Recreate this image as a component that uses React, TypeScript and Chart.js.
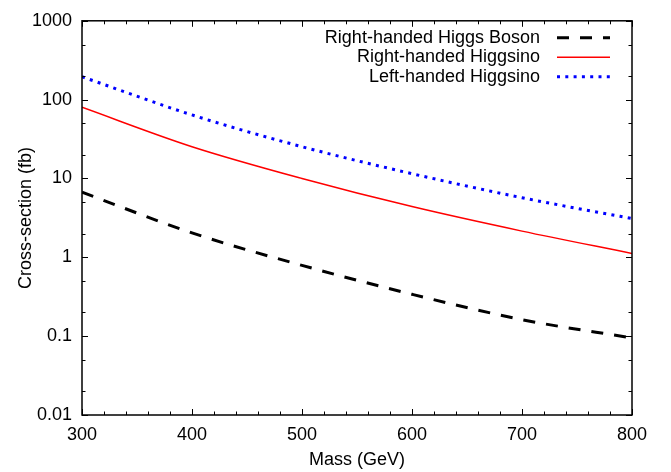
import React, { useEffect, useRef } from 'react';
import { Chart, registerables } from 'chart.js';

Chart.register(...registerables);

// ---- data ----
const masses = [300, 400, 500, 600, 700, 800];
const higgsBosonRH = [6.7, 2.04, 0.79, 0.34, 0.162, 0.095];
const higgsinoRH = [80, 25.3, 10, 4.4, 2.15, 1.12];
const higgsinoLH = [195, 64, 25.3, 11.5, 5.7, 3.1];
const seriesLabels = ['Right-handed Higgs Boson', 'Right-handed Higgsino', 'Left-handed Higgsino'];

const yMajorTicks = [0.01, 0.1, 1, 10, 100, 1000];
const yTickLabels = ['0.01', '0.1', '1', '10', '100', '1000'];
const yMinorFactors = [2, 5];
const xMajorTicks = [300, 400, 500, 600, 700, 800];
const xTickLabels = ['300', '400', '500', '600', '700', '800'];
const xMinorStep = 20;

const xTitle = 'Mass (GeV)';
const yTitle = 'Cross-section (fb)';

const FONT = '"Liberation Sans", Arial, Helvetica, sans-serif';
const FONT_SIZE = 18;

const toPoints = (ys: number[]) => masses.map((m, i) => ({ x: m, y: ys[i] }));

const framePlugin = {
  id: 'gnuFrame',
  afterDatasetsDraw(chart: any) {
    const { ctx, chartArea: a, scales } = chart;
    const xs = scales.x;
    const ys = scales.y;
    ctx.save();
    ctx.strokeStyle = '#000';
    ctx.lineWidth = 1;
    ctx.beginPath();
    xs.ticks.forEach((t: any) => {
      const px = Math.round(xs.getPixelForValue(t.value)) + 0.5;
      const len = xMajorTicks.includes(t.value) ? 6 : 3.5;
      ctx.moveTo(px, a.bottom);
      ctx.lineTo(px, a.bottom - len);
      ctx.moveTo(px, a.top);
      ctx.lineTo(px, a.top + len);
    });
    ys.ticks.forEach((t: any) => {
      const py = Math.round(ys.getPixelForValue(t.value)) + 0.5;
      const len = yMajorTicks.some((v) => Math.abs(v - t.value) / v < 1e-6) ? 6 : 3.5;
      ctx.moveTo(a.left, py);
      ctx.lineTo(a.left + len, py);
      ctx.moveTo(a.right, py);
      ctx.lineTo(a.right - len, py);
    });
    ctx.stroke();
    ctx.lineWidth = 1.5;
    ctx.strokeRect(a.left, a.top, a.right - a.left, a.bottom - a.top);

    // axis titles
    ctx.fillStyle = '#000';
    ctx.font = `${FONT_SIZE}px ${FONT}`;
    ctx.textAlign = 'center';
    ctx.textBaseline = 'middle';
    ctx.fillText(xTitle, (a.left + a.right) / 2, chart.height - 12);
    ctx.save();
    ctx.translate(26, (a.top + a.bottom) / 2);
    ctx.rotate(-Math.PI / 2);
    ctx.fillText(yTitle, 0, 0);
    ctx.restore();

    // legend (gnuplot style: text right-aligned, sample to the right)
    chart.data.datasets.forEach((ds: any, i: number) => {
      const y = a.top + 17 + i * 19.5;
      ctx.textAlign = 'right';
      ctx.fillStyle = '#000';
      ctx.fillText(ds.label, a.right - 92, y);
      ctx.beginPath();
      ctx.strokeStyle = ds.borderColor;
      ctx.lineWidth = ds.borderWidth;
      ctx.setLineDash(ds.borderDash || []);
      ctx.moveTo(a.right - 75, y);
      ctx.lineTo(a.right - 22, y);
      ctx.stroke();
      ctx.setLineDash([]);
    });
    ctx.restore();
  },
};

export default function App() {
  const canvasRef = useRef<HTMLCanvasElement | null>(null);

  useEffect(() => {
    if (!canvasRef.current) return;
    Chart.defaults.font.family = FONT;
    Chart.defaults.font.size = FONT_SIZE;
    Chart.defaults.color = '#000';

    const chart = new Chart(canvasRef.current, {
      type: 'line',
      data: {
        datasets: [
          {
            label: seriesLabels[0],
            data: toPoints(higgsBosonRH),
            borderColor: '#000000',
            borderWidth: 3,
            borderDash: [12, 11],
            pointRadius: 0,
            cubicInterpolationMode: 'monotone',
          },
          {
            label: seriesLabels[1],
            data: toPoints(higgsinoRH),
            borderColor: '#ff0000',
            borderWidth: 1.5,
            pointRadius: 0,
            cubicInterpolationMode: 'monotone',
          },
          {
            label: seriesLabels[2],
            data: toPoints(higgsinoLH),
            borderColor: '#0000ff',
            borderWidth: 3,
            borderDash: [3, 5.3],
            pointRadius: 0,
            cubicInterpolationMode: 'monotone',
          },
        ],
      },
      options: {
        animation: false,
        responsive: false,
        devicePixelRatio: 1,
        layout: { padding: { top: 15, right: 39, left: 0, bottom: 0 } },
        plugins: {
          legend: { display: false },
          tooltip: { enabled: false },
          title: { display: false },
        },
        scales: {
          x: {
            type: 'linear',
            min: 300,
            max: 800,
            afterFit: (s: any) => {
              s.height = 57;
            },
            afterBuildTicks: (s: any) => {
              const t: any[] = [];
              for (let v = xMajorTicks[0]; v <= xMajorTicks[xMajorTicks.length - 1]; v += xMinorStep) {
                t.push({ value: v });
              }
              s.ticks = t;
            },
            ticks: {
              autoSkip: false,
              maxRotation: 0,
              padding: 9,
              font: { size: FONT_SIZE, family: FONT },
              callback: (v: any) => {
                const idx = xMajorTicks.indexOf(Number(v));
                return idx >= 0 ? xTickLabels[idx] : '';
              },
            },
            grid: { display: true, drawOnChartArea: false, drawTicks: false },
            border: { display: false },
          },
          y: {
            type: 'logarithmic',
            min: 0.01,
            max: 1000,
            afterFit: (s: any) => {
              s.width = 82;
            },
            afterBuildTicks: (s: any) => {
              const t: any[] = [];
              yMajorTicks.forEach((v, i) => {
                t.push({ value: v, major: true });
                if (i < yMajorTicks.length - 1) {
                  yMinorFactors.forEach((f) => t.push({ value: v * f, major: false }));
                }
              });
              s.ticks = t;
            },
            ticks: {
              autoSkip: false,
              padding: 10,
              font: { size: FONT_SIZE, family: FONT },
              callback: (v: any) => {
                const idx = yMajorTicks.findIndex((m) => Math.abs(m - Number(v)) / m < 1e-6);
                return idx >= 0 ? yTickLabels[idx] : '';
              },
            },
            grid: { display: true, drawOnChartArea: false, drawTicks: false },
            border: { display: false },
          },
        },
      } as any,
      plugins: [framePlugin],
    });
    return () => chart.destroy();
  }, []);

  return (
    <div style={{ position: 'fixed', left: 0, top: 0, width: 671, height: 472, background: '#fff' }}>
      <canvas ref={canvasRef} width={671} height={472} style={{ width: 671, height: 472 }} />
    </div>
  );
}
